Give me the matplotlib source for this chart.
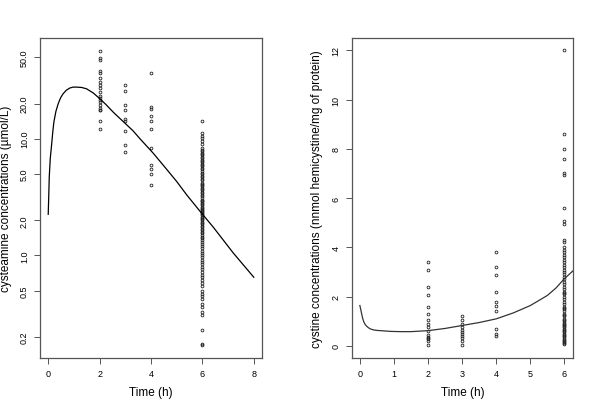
import matplotlib
matplotlib.use("Agg")
import matplotlib.pyplot as plt
import numpy as np

plt.rcParams['font.family'] = ['Liberation Sans', 'DejaVu Sans']

# ---------------- Left panel: cysteamine ----------------
cya_t2 = [56.9, 49, 47.7, 37.9, 36.5, 33.1, 30.9, 28.6, 27.3, 25.1, 23.2, 22.3,
          21.3, 20.6, 19.3, 18.4, 17.8, 17.5, 14.1, 12.2]
cya_t3 = [28.6, 25.6, 19.5, 17.8, 14.8, 14.1, 11.6, 8.8, 7.7]
cya_t4 = [36.5, 18.7, 18.1, 15.7, 14.3, 12.2, 8.4, 6.0, 5.5, 5.0, 4.05]
cya_t6 = [14.3, 11.1, 10.6, 10.1, 9.6, 9.1, 8.3, 8.0, 7.8, 7.6, 7.4, 7.2, 7.0,
          6.8, 6.6, 6.5, 6.3, 6.1, 6.0, 5.8, 5.6, 5.5, 5.3, 5.1, 5.0, 4.8, 4.7,
          4.5, 4.4, 4.2, 4.1, 4.0, 3.9, 3.8, 3.7, 3.6, 3.5, 3.4, 3.3, 3.2, 3.1,
          3.0, 2.95, 2.9, 2.8, 2.75, 2.7, 2.6, 2.55, 2.5, 2.45, 2.4, 2.35, 2.3,
          2.25, 2.2, 2.15, 2.1, 2.05, 2.0, 1.95, 1.9, 1.85, 1.8, 1.75, 1.7, 1.65,
          1.6, 1.55, 1.5, 1.45, 1.4, 1.35, 1.3, 1.25, 1.2, 1.15, 1.1, 1.05, 1.0,
          0.96, 0.92, 0.88, 0.85, 0.8, 0.76, 0.72, 0.68, 0.65, 0.62, 0.58, 0.55,
          0.5, 0.47, 0.45, 0.42, 0.38, 0.36, 0.33, 0.31, 0.23, 0.175, 0.17]
cya_curve_t = [0.0, 0.02, 0.04, 0.08, 0.13, 0.18, 0.22, 0.3, 0.39, 0.48, 0.58,
               0.7, 0.84, 0.97, 1.1, 1.3, 1.49, 1.75, 2.01, 2.25, 2.53, 2.75,
               3.0, 3.3, 3.57, 4.09, 4.6, 5.0, 5.39, 5.9, 6.42, 7.2, 8.0]
cya_curve_v = [2.25, 3.2, 4.7, 6.8, 8.8, 11.6, 13.9, 17.2, 20, 22.4, 24.3,
               26.0, 27.2, 27.7, 27.7, 27.5, 26.8, 24.7, 22, 19.6, 16.9, 15.2,
               13.5, 11.7, 10.0, 7.5, 5.5, 4.3, 3.3, 2.4, 1.75, 1.05, 0.65]
left_yticks = [0.2, 0.5, 1.0, 2.0, 5.0, 10.0, 20.0, 50.0]
left_ytick_labels = ["0.2", "0.5", "1.0", "2.0", "5.0", "10.0", "20.0", "50.0"]
left_xticks = [0, 2, 4, 6, 8]

# ---------------- Right panel: cystine ----------------
cys_t2 = [3.42, 3.08, 2.4, 2.08, 1.6, 1.3, 1.07, 0.9, 0.75, 0.6, 0.45, 0.38,
          0.33, 0.27, 0.2, 0.05]
cys_t3 = [1.22, 1.05, 0.88, 0.76, 0.66, 0.58, 0.49, 0.41, 0.34, 0.22, 0.03]
cys_t4 = [3.81, 3.20, 2.89, 2.18, 1.80, 1.61, 1.41, 0.69, 0.49, 0.42]
cys_t6 = [12.0, 8.62, 8.01, 7.58, 7.02, 6.93, 5.60, 5.06, 4.96, 4.28, 4.22,
          4.0, 3.9, 3.8, 3.7, 3.6, 3.5, 3.4, 3.3, 3.2, 3.1, 3.0, 2.9, 2.8,
          2.7, 2.6, 2.5, 2.4, 2.3, 2.2, 2.15, 2.1, 2.0, 1.9, 1.8, 1.7, 1.6,
          1.55, 1.5, 1.4, 1.3, 1.25, 1.2, 1.1, 1.05, 1.0, 0.95, 0.9, 0.85,
          0.8, 0.75, 0.7, 0.65, 0.6, 0.55, 0.5, 0.45, 0.4, 0.35, 0.3, 0.25,
          0.2, 0.15, 0.1, 0.08]
cys_curve_t = [0.0, 0.03, 0.06, 0.09, 0.12, 0.16, 0.2, 0.25, 0.31, 0.4, 0.5,
               0.61, 0.9, 1.19, 1.5, 2.0, 2.5, 3.0, 3.5, 4.0, 4.5, 5.0, 5.5,
               5.75, 6.0, 6.26]
cys_curve_v = [1.64, 1.45, 1.25, 1.08, 0.96, 0.86, 0.8, 0.74, 0.69, 0.65,
               0.63, 0.62, 0.59, 0.58, 0.58, 0.62, 0.71, 0.83, 0.95, 1.1,
               1.34, 1.64, 2.05, 2.35, 2.73, 3.06]
right_yticks = [0, 2, 4, 6, 8, 10, 12]
right_xticks = [0, 1, 2, 3, 4, 5, 6]

fig = plt.figure(figsize=(6, 4.1), dpi=100)
W, H = 600, 410
axL = fig.add_axes([40 / W, 1 - 359 / H, 222 / W, 320 / H])
axR = fig.add_axes([351.7 / W, 1 - 359 / H, 221.6 / W, 320 / H])

mk = dict(linestyle='none', marker='o', markersize=2.0, markerfacecolor='none',
          markeredgecolor='#222222', markeredgewidth=0.6)


def scatter_groups(ax, groups):
    for t, vals in groups:
        ax.plot([t] * len(vals), vals, **mk)


scatter_groups(axL, [(2, cya_t2), (3, cya_t3), (4, cya_t4), (6, cya_t6)])
axL.plot(cya_curve_t, cya_curve_v, color='black', lw=0.9)
axL.set_yscale('log')
axL.set_xlim(-0.32, 8.32)
axL.set_ylim(0.132, 73)
axL.set_yticks(left_yticks)
axL.set_yticklabels(left_ytick_labels)
axL.yaxis.set_minor_locator(matplotlib.ticker.NullLocator())
axL.set_xticks(left_xticks)
axL.set_ylabel("cysteamine concentrations (\u00b5mol/L)", fontsize=8.5, labelpad=6)
axL.set_xlabel("Time (h)", fontsize=8.5, labelpad=6)

scatter_groups(axR, [(2, cys_t2), (3, cys_t3), (4, cys_t4), (6, cys_t6)])
axR.plot(cys_curve_t, cys_curve_v, color='#333333', lw=0.9)
axR.set_xlim(-0.24, 6.26)
axR.set_ylim(-0.49, 12.5)
axR.set_yticks(right_yticks)
axR.set_xticks(right_xticks)
axR.set_ylabel("cystine concentrations (nnmol hemicystine/mg of protein)",
               fontsize=8.5, labelpad=6)
axR.set_xlabel("Time (h)", fontsize=8.5, labelpad=6)

for ax in (axL, axR):
    for s in ax.spines.values():
        s.set_color('#555555')
        s.set_linewidth(0.9)
    ax.tick_params(direction='out', length=4, width=0.7, color='#555555',
                   labelsize=6.5, pad=4)
    for lab in ax.get_yticklabels():
        lab.set_rotation(90)
        lab.set_va('center')

fig.savefig("out.png", dpi=100)
